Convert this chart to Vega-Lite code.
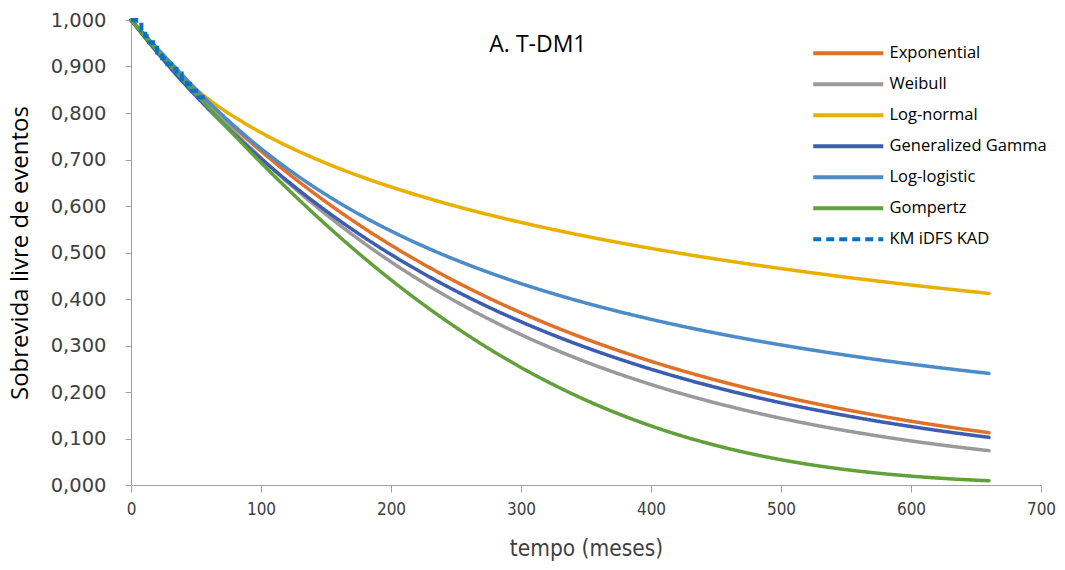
{
  "$schema": "https://vega.github.io/schema/vega-lite/v6.json",
  "autosize": {"type": "none"},
  "width": 910,
  "height": 465,
  "padding": {"left": 131, "top": 20, "right": 24, "bottom": 85},
  "background": "white",
  "config": {"view": {"stroke": null}},
  "datasets": {
    "models": [
      {"t": 0, "Exponential": 1, "Weibull": 1, "Log-normal": 1, "Generalized Gamma": 1, "Log-logistic": 1, "Gompertz": 1},
      {"t": 30, "Exponential": 0.9055, "Weibull": 0.9066, "Log-normal": 0.9012, "Generalized Gamma": 0.8977, "Log-logistic": 0.9099, "Gompertz": 0.9031},
      {"t": 60, "Exponential": 0.8199, "Weibull": 0.8149, "Log-normal": 0.8288, "Generalized Gamma": 0.8074, "Log-logistic": 0.8228, "Gompertz": 0.8102},
      {"t": 90, "Exponential": 0.7424, "Weibull": 0.7300, "Log-normal": 0.7738, "Generalized Gamma": 0.7268, "Log-logistic": 0.7466, "Gompertz": 0.7217},
      {"t": 120, "Exponential": 0.6722, "Weibull": 0.6524, "Log-normal": 0.7293, "Generalized Gamma": 0.6545, "Log-logistic": 0.6810, "Gompertz": 0.6381},
      {"t": 150, "Exponential": 0.6087, "Weibull": 0.5821, "Log-normal": 0.6921, "Generalized Gamma": 0.5896, "Log-logistic": 0.6244, "Gompertz": 0.5597},
      {"t": 180, "Exponential": 0.5511, "Weibull": 0.5186, "Log-normal": 0.6600, "Generalized Gamma": 0.5313, "Log-logistic": 0.5753, "Gompertz": 0.4867},
      {"t": 210, "Exponential": 0.4990, "Weibull": 0.4615, "Log-normal": 0.6321, "Generalized Gamma": 0.4789, "Log-logistic": 0.5327, "Gompertz": 0.4194},
      {"t": 240, "Exponential": 0.4518, "Weibull": 0.4103, "Log-normal": 0.6072, "Generalized Gamma": 0.4318, "Log-logistic": 0.4953, "Gompertz": 0.3580},
      {"t": 270, "Exponential": 0.4091, "Weibull": 0.3644, "Log-normal": 0.5849, "Generalized Gamma": 0.3893, "Log-logistic": 0.4624, "Gompertz": 0.3024},
      {"t": 300, "Exponential": 0.3705, "Weibull": 0.3233, "Log-normal": 0.5647, "Generalized Gamma": 0.3511, "Log-logistic": 0.4331, "Gompertz": 0.2527},
      {"t": 330, "Exponential": 0.3354, "Weibull": 0.2867, "Log-normal": 0.5463, "Generalized Gamma": 0.3167, "Log-logistic": 0.4071, "Gompertz": 0.2087},
      {"t": 360, "Exponential": 0.3037, "Weibull": 0.2541, "Log-normal": 0.5294, "Generalized Gamma": 0.2857, "Log-logistic": 0.3838, "Gompertz": 0.1702},
      {"t": 390, "Exponential": 0.2750, "Weibull": 0.2251, "Log-normal": 0.5138, "Generalized Gamma": 0.2577, "Log-logistic": 0.3629, "Gompertz": 0.1370},
      {"t": 420, "Exponential": 0.2490, "Weibull": 0.1992, "Log-normal": 0.4994, "Generalized Gamma": 0.2325, "Log-logistic": 0.3438, "Gompertz": 0.1087},
      {"t": 450, "Exponential": 0.2255, "Weibull": 0.1763, "Log-normal": 0.4859, "Generalized Gamma": 0.2098, "Log-logistic": 0.3266, "Gompertz": 0.0850},
      {"t": 480, "Exponential": 0.2042, "Weibull": 0.1558, "Log-normal": 0.4734, "Generalized Gamma": 0.1893, "Log-logistic": 0.3109, "Gompertz": 0.0654},
      {"t": 510, "Exponential": 0.1849, "Weibull": 0.1377, "Log-normal": 0.4616, "Generalized Gamma": 0.1708, "Log-logistic": 0.2966, "Gompertz": 0.0494},
      {"t": 540, "Exponential": 0.1674, "Weibull": 0.1216, "Log-normal": 0.4505, "Generalized Gamma": 0.1543, "Log-logistic": 0.2834, "Gompertz": 0.0367},
      {"t": 570, "Exponential": 0.1516, "Weibull": 0.1075, "Log-normal": 0.4401, "Generalized Gamma": 0.1392, "Log-logistic": 0.2712, "Gompertz": 0.0267},
      {"t": 600, "Exponential": 0.1372, "Weibull": 0.0948, "Log-normal": 0.4302, "Generalized Gamma": 0.1257, "Log-logistic": 0.2600, "Gompertz": 0.0191},
      {"t": 630, "Exponential": 0.1243, "Weibull": 0.0837, "Log-normal": 0.4209, "Generalized Gamma": 0.1135, "Log-logistic": 0.2496, "Gompertz": 0.0133},
      {"t": 660, "Exponential": 0.1125, "Weibull": 0.0738, "Log-normal": 0.4120, "Generalized Gamma": 0.1024, "Log-logistic": 0.2400, "Gompertz": 0.0091}
    ],
    "km": [
      {"s": "KM iDFS KAD", "t": 0, "v": 1.0},
      {"s": "KM iDFS KAD", "t": 4, "v": 0.99},
      {"s": "KM iDFS KAD", "t": 8, "v": 0.978},
      {"s": "KM iDFS KAD", "t": 11, "v": 0.965},
      {"s": "KM iDFS KAD", "t": 14, "v": 0.952},
      {"s": "KM iDFS KAD", "t": 17, "v": 0.94},
      {"s": "KM iDFS KAD", "t": 20, "v": 0.93},
      {"s": "KM iDFS KAD", "t": 24, "v": 0.918},
      {"s": "KM iDFS KAD", "t": 28, "v": 0.905},
      {"s": "KM iDFS KAD", "t": 31, "v": 0.895},
      {"s": "KM iDFS KAD", "t": 35, "v": 0.885},
      {"s": "KM iDFS KAD", "t": 39, "v": 0.873},
      {"s": "KM iDFS KAD", "t": 43, "v": 0.862},
      {"s": "KM iDFS KAD", "t": 47, "v": 0.848},
      {"s": "KM iDFS KAD", "t": 50, "v": 0.838},
      {"s": "KM iDFS KAD", "t": 52, "v": 0.834},
      {"s": "KM iDFS KAD", "t": 59, "v": 0.834}
    ],
    "label": [{"t": 313, "v": 0.946, "txt": "A. T-DM1"}]
  },
  "encoding": {
    "x": {
      "field": "t", "type": "quantitative",
      "scale": {"domain": [0, 700], "nice": false},
      "axis": {
        "title": "tempo (meses)", "values": [0, 100, 200, 300, 400, 500, 600, 700],
        "grid": false, "domainColor": "#A0A0A0", "tickColor": "#A0A0A0", "tickSize": 7,
        "labelFont": "DejaVu Sans Condensed", "labelFontSize": 17, "labelColor": "#404040", "labelPadding": 9,
        "titleFont": "DejaVu Sans Condensed", "titleFontSize": 22.5, "titleFontWeight": "normal", "titleColor": "#404040", "titlePadding": 20,
        "labelFlush": false
      }
    },
    "y": {
      "field": "v", "type": "quantitative",
      "scale": {"domain": [0, 1], "nice": false},
      "axis": {
        "title": "Sobrevida livre de eventos", "values": [0, 0.1, 0.2, 0.3, 0.4, 0.5, 0.6, 0.7, 0.8, 0.9, 1],
        "labelExpr": "replace(format(datum.value, '.3f'), '.', ',')",
        "grid": false, "domainColor": "#A0A0A0", "tickColor": "#A0A0A0", "tickSize": 6,
        "labelFont": "DejaVu Sans", "labelFontSize": 19.5, "labelColor": "#404040", "labelPadding": 19,
        "titleFont": "Open Sans", "titleFontSize": 24, "titleFontWeight": "normal", "titleColor": "#000000", "titlePadding": 18,
        "labelFlush": false
      }
    }
  },
  "layer": [
    {
      "data": {"name": "models"},
      "transform": [{"fold": ["Exponential", "Weibull", "Log-normal", "Generalized Gamma", "Log-logistic", "Gompertz"], "as": ["s", "v"]}],
      "mark": {"type": "line", "strokeWidth": 3.5, "strokeCap": "round", "interpolate": "monotone"},
      "encoding": {
        "color": {"field": "s", "type": "nominal"},
        "strokeDash": {"field": "s", "type": "nominal"}
      }
    },
    {
      "data": {"name": "km"},
      "mark": {"type": "line", "strokeWidth": 4, "interpolate": "step-after"},
      "encoding": {
        "color": {
          "field": "s", "type": "nominal",
          "scale": {
            "domain": ["Exponential", "Weibull", "Log-normal", "Generalized Gamma", "Log-logistic", "Gompertz", "KM iDFS KAD"],
            "range": ["#E07128", "#9A9A9A", "#E8B100", "#3D5DB0", "#4C8CC8", "#62A03C", "#0A72C2"]
          },
          "legend": {
            "title": null, "orient": "none", "legendX": 709, "legendY": 25,
            "symbolType": "M-17.5,0H17.5", "symbolSize": 16, "symbolStrokeWidth": 4,
            "labelFont": "Open Sans", "labelFontSize": 16.5, "labelColor": "#000000", "labelOffset": 33,
            "rowPadding": 14
          }
        },
        "strokeDash": {
          "field": "s", "type": "nominal",
          "scale": {
            "domain": ["Exponential", "Weibull", "Log-normal", "Generalized Gamma", "Log-logistic", "Gompertz", "KM iDFS KAD"],
            "range": [[1, 0], [1, 0], [1, 0], [1, 0], [1, 0], [1, 0], [8, 5]]
          }
        }
      }
    },
    {
      "data": {"name": "label"},
      "mark": {"type": "text", "font": "Open Sans", "fontSize": 23, "color": "#000000", "align": "center", "baseline": "middle"},
      "encoding": {
        "text": {"field": "txt"}
      }
    }
  ]
}
